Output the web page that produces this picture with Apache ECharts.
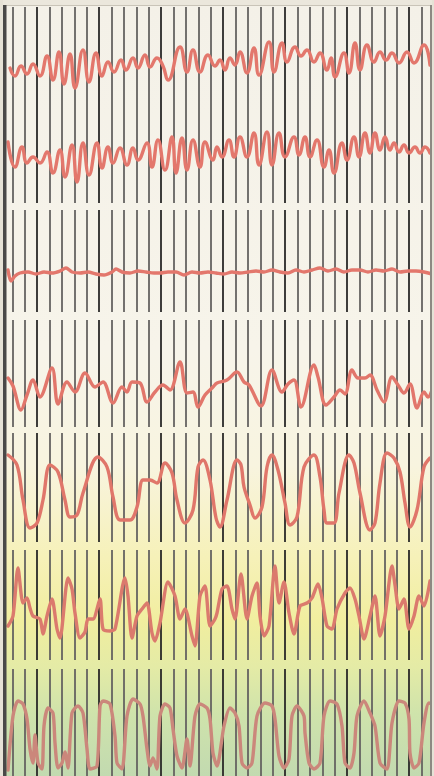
<!DOCTYPE html>
<html>
<head>
<meta charset="utf-8">
<title>traces</title>
<script src="https://cdn.jsdelivr.net/npm/echarts@6/dist/echarts.min.js"></script>
<style>
  html, body { margin: 0; padding: 0; background: #f4f1e8; }
  #chart { width: 434px; height: 776px; }
</style>
</head>
<body>
<div id="chart"></div>
<script>
// each trace: [position along the sheet, deflection above its baseline]
var trace1 = [[10,-3],[15,-11],[21,-1],[27,-9],[33,1],[40,-11],[47,9],[53,-15],[59,13],[64,-19],[70,11],[75,-23],[83,15],[89,-17],[96,12],[102,-11],[108,3],[114,-7],[121,5],[126,-5],[133,7],[138,-3],[145,10],[150,-2],[157,7],[163,-1],[168,-15],[180,18],[187,-7],[193,15],[200,-7],[208,10],[215,-1],[220,5],[225,-5],[230,7],[235,0],[240,13],[247,-8],[254,17],[259,-10],[269,23],[274,-7],[282,22],[287,3],[295,18],[301,9],[307,15],[314,3],[320,12],[327,-5],[331,7],[335,-12],[344,12],[349,-8],[355,22],[360,-5],[367,20],[374,3],[380,13],[386,5],[392,12],[399,2],[407,13],[414,2],[424,20],[430,0]];
var trace2 = [[8,13],[15,-12],[22,8],[27,-8],[33,-2],[40,-8],[47,3],[53,-18],[60,5],[65,-22],[72,10],[77,-27],[83,12],[89,-20],[97,12],[102,-13],[108,8],[113,-8],[120,7],[127,-10],[133,7],[138,-5],[147,12],[152,-12],[158,15],[165,-15],[172,18],[176,-18],[182,17],[187,-15],[193,15],[200,-12],[205,13],[213,-5],[217,8],[222,-2],[229,15],[234,-2],[240,18],[247,-2],[254,22],[259,-10],[267,23],[272,-10],[279,22],[285,-2],[294,18],[299,0],[305,18],[310,-2],[317,15],[324,-12],[329,5],[334,-18],[342,12],[347,-5],[354,18],[359,-2],[365,22],[370,2],[375,22],[380,5],[385,18],[390,5],[394,12],[399,3],[404,10],[409,2],[415,8],[420,2],[425,8],[430,2]];
var trace3 = [[8,2],[11,-9],[15,-4],[20,-1],[28,0],[36,-2],[44,0],[52,-1],[60,1],[66,4],[72,0],[80,-1],[88,0],[96,-2],[104,-3],[112,0],[116,3],[122,0],[130,-1],[138,1],[146,0],[154,-1],[160,-1],[168,0],[176,0],[184,-3],[192,0],[200,-1],[208,0],[216,-1],[224,-2],[232,0],[240,-1],[248,0],[256,1],[264,0],[272,2],[280,0],[288,-1],[296,2],[304,0],[312,2],[320,4],[328,1],[336,3],[344,0],[352,2],[360,2],[368,0],[376,2],[384,1],[392,3],[400,0],[408,1],[416,1],[424,0],[432,-2]];
var trace4 = [[8,8],[13,0],[21,-24],[27,-9],[33,6],[40,-11],[52,18],[58,-18],[67,4],[75,-6],[85,13],[95,-1],[103,4],[113,-17],[122,-1],[127,-6],[132,4],[140,3],[147,-16],[155,-6],[163,1],[170,-4],[180,24],[187,-7],[193,-6],[198,-21],[205,-9],[213,-1],[217,3],[227,6],[237,14],[244,4],[249,1],[261,-20],[272,16],[282,-6],[288,2],[294,6],[301,-21],[314,21],[318,9],[326,-19],[334,-11],[340,-4],[345,-8],[352,16],[358,8],[365,8],[370,11],[377,-4],[384,-16],[392,9],[398,1],[404,-7],[410,2],[417,-22],[424,-6],[428,-11],[432,-4]];
var trace5 = [[8,37],[17,27],[23,-8],[30,-36],[37,-31],[43,-8],[50,27],[58,20],[65,-8],[70,-25],[77,-23],[83,-1],[98,35],[107,25],[113,-5],[120,-28],[130,-28],[137,-15],[143,12],[150,12],[157,9],[165,29],[172,19],[177,-8],[185,-31],[193,-18],[198,25],[203,32],[210,12],[216,-26],[220,-35],[227,-8],[237,32],[241,27],[244,5],[250,-13],[255,-26],[262,-15],[267,25],[272,37],[278,22],[285,-11],[290,-33],[297,-25],[304,25],[314,37],[320,15],[324,-18],[327,-31],[334,-31],[339,-1],[349,37],[354,29],[360,-1],[370,-38],[375,-31],[380,9],[387,39],[394,34],[400,20],[405,-11],[410,-35],[417,-18],[424,25],[430,34]];
var trace6 = [[8,-16],[13,-6],[18,42],[23,7],[27,12],[30,2],[33,-6],[40,-9],[43,-24],[47,-6],[52,11],[57,-19],[60,-28],[68,32],[72,21],[75,-3],[80,-28],[85,-22],[88,-9],[93,-9],[100,11],[103,-19],[110,-21],[115,-19],[125,32],[128,14],[132,-28],[137,-6],[142,1],[147,7],[152,-23],[155,-31],[160,-13],[168,28],[175,14],[180,-9],[185,1],[192,-26],[195,-36],[200,14],[205,24],[210,-16],[215,-9],[217,-3],[222,21],[227,24],[232,1],[235,-9],[241,36],[247,-9],[252,14],[257,27],[260,-6],[264,-26],[269,-16],[275,44],[279,7],[284,28],[289,-3],[294,-24],[300,4],[307,7],[312,12],[318,26],[322,12],[327,-16],[332,-19],[337,1],[345,17],[350,22],[355,11],[359,-6],[364,-29],[370,-6],[375,14],[380,-26],[385,-6],[392,44],[395,25],[399,1],[404,11],[409,-19],[414,-6],[419,14],[424,4],[430,29]];
var trace7 = [[8,-3],[13,51],[18,66],[23,63],[27,48],[30,18],[33,4],[35,32],[38,4],[42,-2],[44,41],[48,59],[53,54],[55,24],[58,-1],[62,4],[65,15],[68,-1],[72,54],[78,61],[83,54],[87,18],[90,-2],[97,1],[100,61],[103,66],[110,63],[115,31],[117,4],[122,-2],[127,51],[133,68],[140,63],[143,51],[147,18],[150,1],[153,9],[157,-2],[160,51],[165,63],[170,59],[173,38],[177,11],[182,-1],[187,28],[190,1],[195,51],[200,63],[207,59],[210,48],[213,14],[217,1],[224,41],[230,59],[235,54],[239,41],[242,4],[247,-1],[252,4],[257,51],[265,64],[272,61],[275,48],[279,11],[284,-1],[289,8],[292,51],[297,61],[304,51],[305,34],[309,4],[314,-2],[320,4],[324,51],[330,66],[337,63],[342,41],[345,4],[350,-1],[354,14],[357,51],[364,66],[370,54],[375,41],[380,4],[387,-2],[392,44],[399,66],[405,64],[409,48],[410,14],[414,-1],[419,4],[424,44],[429,64],[434,62]];

var traces = [trace1, trace2, trace3, trace4, trace5, trace6, trace7];
var baselines = [65, 155, 272, 386, 492, 610, 767];
var ranges = [[-40, 40], [-40, 40], [-30, 30], [-40, 40], [-50, 50], [-50, 50], [-9, 77]];
var smooths = [0.5, 0.5, 0.3, 0.35, 0.35, 0.25, 0.25];
var traceColors = ['#e3776c', '#e3776c', '#e3776c', '#e2766b', '#e0766a', '#db7a6d', '#cb877b'];

// ruled vertical lines, broken into strips
var rulerStep = 12.4;
var strips = [[7, 203], [210, 312], [320, 427], [433, 542], [550, 660], [669, 776]];

var chart = echarts.init(document.getElementById('chart'));

var grids = [], xAxes = [], yAxes = [], series = [];

strips.forEach(function (s, i) {
  grids.push({ left: 0, right: 0, top: s[0], height: s[1] - s[0] });
  xAxes.push({
    type: 'value', gridIndex: i, min: 0, max: 434, interval: rulerStep,
    axisLine: { show: false }, axisTick: { show: false }, axisLabel: { show: false },
    splitLine: {
      show: true,
      lineStyle: { width: 1.8, color: ['#656361', '#656361', '#656361', '#2a2928', '#656361'] }
    }
  });
  yAxes.push({ type: 'value', gridIndex: i, min: 0, max: 1, show: false, splitLine: { show: false } });
});

traces.forEach(function (t, j) {
  var gi = strips.length + j;
  var r = ranges[j];
  grids.push({ left: 0, right: 0, top: baselines[j] - r[1], height: r[1] - r[0] });
  xAxes.push({ type: 'value', gridIndex: gi, min: 0, max: 434, show: false, splitLine: { show: false } });
  yAxes.push({ type: 'value', gridIndex: gi, min: r[0], max: r[1], show: false, splitLine: { show: false } });
  series.push({
    type: 'line',
    xAxisIndex: gi,
    yAxisIndex: gi,
    data: t,
    smooth: smooths[j],
    symbol: 'none',
    clip: false,
    z: 5,
    lineStyle: { color: traceColors[j], width: 3.4, cap: 'round', join: 'round' }
  });
});

var option = {
  animation: false,
  backgroundColor: new echarts.graphic.LinearGradient(0, 0, 0, 1, [
    { offset: 0, color: '#f4f1e8' },
    { offset: 0.45, color: '#f7f4ea' },
    { offset: 0.6, color: '#f8f4df' },
    { offset: 0.72, color: '#f6f1b8' },
    { offset: 0.8, color: '#f1ee9f' },
    { offset: 0.86, color: '#e4eba6' },
    { offset: 0.92, color: '#cfe3ab' },
    { offset: 1, color: '#c2dab0' }
  ]),
  grid: grids,
  xAxis: xAxes,
  yAxis: yAxes,
  series: series,
  graphic: [
    { type: 'rect', shape: { x: 0, y: 0, width: 434, height: 5 }, style: { fill: '#ebe7dc' }, z: 10 },
    { type: 'rect', shape: { x: 0, y: 5, width: 434, height: 1 }, style: { fill: '#c9c4b8' }, z: 10 },
    { type: 'rect', shape: { x: 0, y: 0, width: 3, height: 776 }, style: { fill: '#e6e2d6' }, z: 10 },
    { type: 'rect', shape: { x: 3, y: 5, width: 3.5, height: 771 }, style: { fill: '#4a4948' }, z: 10 },
    { type: 'rect', shape: { x: 430, y: 5, width: 2, height: 771 }, style: { fill: '#8d8982' }, z: 10 },
    { type: 'rect', shape: { x: 432, y: 0, width: 2, height: 776 }, style: { fill: '#e6e2d6' }, z: 10 }
  ]
};

chart.setOption(option);
</script>
</body>
</html>
